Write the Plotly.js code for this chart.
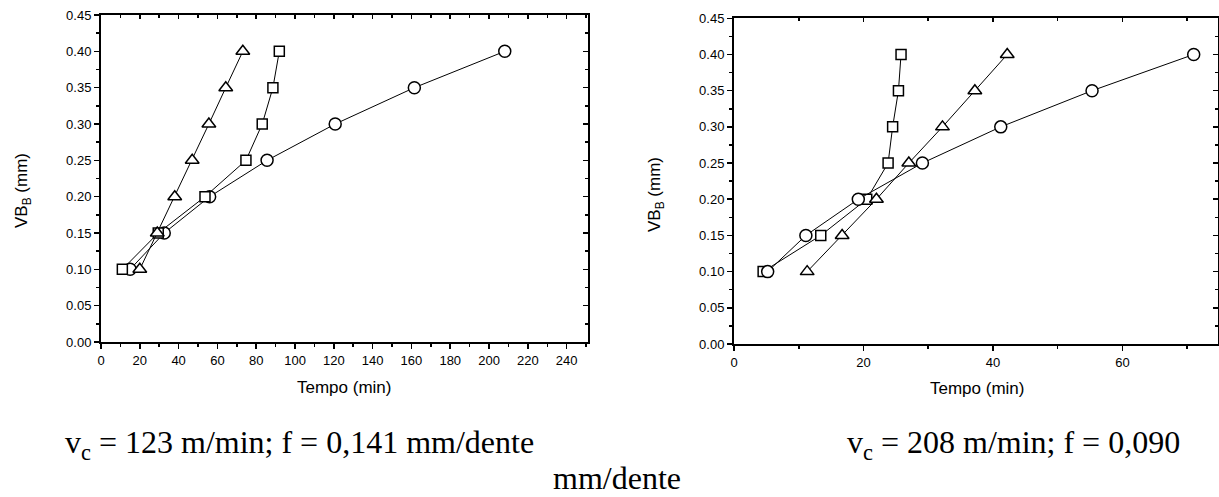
<!DOCTYPE html>
<html>
<head>
<meta charset="utf-8">
<script src="https://cdn.plot.ly/plotly-3.0.1.min.js"></script>
<style>
  html, body { margin: 0; padding: 0; background: #fff; }
  #chart { width: 1219px; height: 497px; }
</style>
</head>
<body>
<div id="chart"></div>
<script>
// ---- Data: VB_B (mm) versus Tempo (min) ----
const vbLevels = [0.10, 0.15, 0.20, 0.25, 0.30, 0.35, 0.40];

// Left chart: vc = 123 m/min; f = 0,141 mm/dente
const leftSquareTime   = [11.0, 29.5, 53.6, 74.7, 83.1, 88.6, 91.9];
const leftCircleTime   = [15.0, 32.6, 56.0, 85.6, 120.7, 161.5, 208.1];
const leftTriangleTime = [20.0, 29.0, 38.0, 47.0, 55.6, 64.3, 73.1];

// Right chart: vc = 208 m/min; f = 0,090 mm/dente
const rightSquareTime   = [4.5, 13.4, 20.5, 23.8, 24.5, 25.4, 25.8];
const rightTriangleTime = [11.3, 16.7, 22.0, 27.0, 32.2, 37.2, 42.2];
const rightCircleTime   = [5.2, 11.1, 19.2, 29.1, 41.2, 55.3, 71.0];

const leftXTicks  = [0, 20, 40, 60, 80, 100, 120, 140, 160, 180, 200, 220, 240];
const rightXTicks = [0, 20, 40, 60];
const yTicks = [0.00, 0.05, 0.10, 0.15, 0.20, 0.25, 0.30, 0.35, 0.40, 0.45];

const xTitle = 'Tempo (min)';
const yTitle = 'VB<sub>B</sub> (mm)';
const leftCaption  = 'v<sub>c</sub> = 123 m/min; f = 0,141 mm/dente';
const rightCaption = 'v<sub>c</sub> = 208 m/min; f = 0,090';
const captionWrap  = 'mm/dente';

// ---- Styling ----
const W = 1219, H = 497;
const px = v => v / W;
const py = v => 1 - v / H;

function series(x, sym, size, xa, ya, name) {
  return {
    type: 'scatter', mode: 'lines+markers', name: name,
    x: x, y: vbLevels, xaxis: xa, yaxis: ya,
    line: { color: '#000000', width: 1 },
    marker: { symbol: sym, size: size, color: '#ffffff', line: { color: '#000000', width: 1.5 } },
    cliponaxis: false, showlegend: false, hoverinfo: 'x+y'
  };
}
const dummy = (xa, ya) => ({ type: 'scatter', x: [null], y: [null], xaxis: xa, yaxis: ya,
  showlegend: false, hoverinfo: 'skip', mode: 'markers' });

const data = [
  series(leftCircleTime,   'circle',      12, 'x',  'y',  'Círculo'),
  series(leftSquareTime,   'square',      10, 'x',  'y',  'Quadrado'),
  series(leftTriangleTime, 'triangle-up', 12, 'x',  'y',  'Triângulo'),
  series(rightSquareTime,   'square',      10, 'x2', 'y2', 'Quadrado'),
  series(rightTriangleTime, 'triangle-up', 12, 'x2', 'y2', 'Triângulo'),
  series(rightCircleTime,   'circle',      12, 'x2', 'y2', 'Círculo'),
  dummy('x3', 'y3'),
  dummy('x4', 'y4')
];

const tickFont = { family: 'Liberation Sans, Arial, sans-serif', size: 13, color: '#000' };
const titleFont = { family: 'Liberation Sans, Arial, sans-serif', size: 17, color: '#000' };

function xAxis(domain, range, ticks, anchor) {
  return {
    domain: domain, range: range, anchor: anchor,
    tickmode: 'array', tickvals: ticks, ticktext: ticks.map(String),
    ticks: 'outside', ticklen: 5, tickwidth: 1.5, tickcolor: '#000',
    minor: { dtick: 10, tick0: 0, ticks: 'outside', ticklen: 3, tickwidth: 1.5, tickcolor: '#000' },
    showline: true, linecolor: '#000', linewidth: 2, mirror: true,
    showgrid: false, zeroline: false, tickfont: tickFont
  };
}
function yAxis(domain, anchor) {
  return {
    domain: domain, range: [0, 0.45], anchor: anchor,
    tickmode: 'array', tickvals: yTicks, ticktext: yTicks.map(v => v.toFixed(2)),
    ticks: 'outside', ticklen: 5, tickwidth: 1.5, tickcolor: '#000',
    minor: { dtick: 0.025, tick0: 0, ticks: 'outside', ticklen: 3, tickwidth: 1.5, tickcolor: '#000' },
    showline: true, linecolor: '#000', linewidth: 2, mirror: true,
    showgrid: false, zeroline: false, tickfont: tickFont
  };
}
function mirrorX(over, range, ticks, anchor) {
  return {
    overlaying: over, side: 'top', anchor: anchor, range: range,
    tickmode: 'array', tickvals: ticks, showticklabels: false,
    ticks: 'inside', ticklen: 4, tickwidth: 1.5, tickcolor: '#000',
    minor: { dtick: 10, tick0: 0, ticks: 'inside', ticklen: 3, tickwidth: 1.5, tickcolor: '#000' },
    showline: false, showgrid: false, zeroline: false
  };
}
function mirrorY(over, anchor) {
  return {
    overlaying: over, side: 'right', anchor: anchor, range: [0, 0.45],
    tickmode: 'array', tickvals: yTicks, showticklabels: false,
    ticks: 'inside', ticklen: 5, tickwidth: 1.5, tickcolor: '#000',
    minor: { dtick: 0.025, tick0: 0, ticks: 'inside', ticklen: 3, tickwidth: 1.5, tickcolor: '#000' },
    showline: false, showgrid: false, zeroline: false
  };
}

const leftDomX = [px(101), px(588)];
const leftDomY = [py(342), py(15)];
const rightDomX = [px(734), px(1218.3)];
const rightDomY = [py(344), py(18.3)];
const leftRange = [0, 251];
const rightRange = [0, 74.8];

const captionFont = { family: 'Liberation Serif, Times New Roman, serif', size: 32, color: '#000' };
const ann = (x, y, text, font, extra) => Object.assign({
  xref: 'paper', yref: 'paper', x: x, y: y, xanchor: 'center', yanchor: 'middle',
  text: text, showarrow: false, font: font, borderpad: 0
}, extra || {});

const layout = {
  width: W, height: H,
  margin: { l: 0, r: 0, t: 0, b: 0, pad: 0 },
  paper_bgcolor: '#fff', plot_bgcolor: '#fff',
  showlegend: false,
  xaxis: xAxis(leftDomX, leftRange, leftXTicks, 'y'),
  yaxis: yAxis(leftDomY, 'x'),
  xaxis2: xAxis(rightDomX, rightRange, rightXTicks, 'y2'),
  yaxis2: yAxis(rightDomY, 'x2'),
  xaxis3: mirrorX('x', leftRange, leftXTicks, 'y3'),
  yaxis3: mirrorY('y', 'x3'),
  xaxis4: mirrorX('x2', rightRange, rightXTicks, 'y4'),
  yaxis4: mirrorY('y2', 'x4'),
  annotations: [
    // axis titles
    ann(px(344), py(387), xTitle, titleFont),
    ann(px(977), py(388), xTitle, titleFont),
    ann(px(23), py(191), yTitle, titleFont, { textangle: -90 }),
    ann(px(656), py(195), yTitle, titleFont, { textangle: -90 }),
    // captions
    ann(px(64), py(444), leftCaption, captionFont, { xanchor: 'left' }),
    ann(px(846), py(444), rightCaption, captionFont, { xanchor: 'left' }),
    ann(px(617), 0, captionWrap, captionFont, { yanchor: 'bottom' })
  ]
};

Plotly.newPlot('chart', data, layout, { staticPlot: true, displayModeBar: false });
</script>
</body>
</html>
